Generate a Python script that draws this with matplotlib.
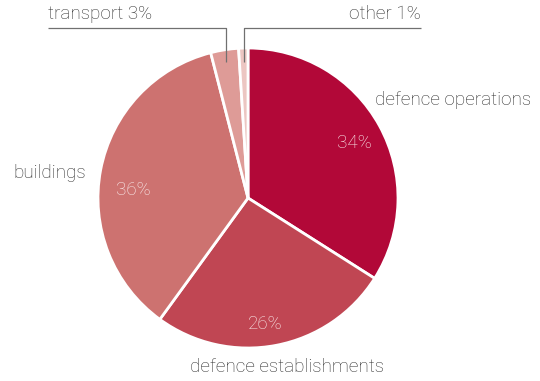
import matplotlib
matplotlib.use("Agg")
import matplotlib.pyplot as plt

# spending share by category, clockwise from twelve o'clock
categories = ["defence operations", "defence establishments", "buildings", "transport", "other"]
shares = [34, 26, 36, 3, 1]
colours = ["#b20838", "#c04653", "#cd7270", "#de9b97", "#ecc6c2"]

W, H = 540, 381


def py(y):
    # pixel rows count downwards, the axes count upwards
    return H - y


def main():
    plt.rcParams["font.family"] = ["Roboto", "DejaVu Sans"]
    fig = plt.figure(figsize=(W / 100, H / 100), dpi=100)
    ax = fig.add_axes([0, 0, 1, 1])

    ax.pie(shares, colors=colours, startangle=90, counterclock=False,
           center=(248, py(198)), radius=150, frame=True,
           wedgeprops=dict(edgecolor="white", linewidth=2))
    ax.set_xlim(0, W)
    ax.set_ylim(0, H)
    ax.set_aspect("equal")
    ax.axis("off")

    txt = dict(color="#2e2e2e", fontsize=13.6, fontweight="light")
    pct = dict(color="#fbeeee", fontsize=13.6, fontweight="light", ha="center", va="center")

    # percentages inside the three big slices
    pct_pos = [(354, 143), (265, 324), (133, 190)]
    for share, (x, y) in zip(shares[:3], pct_pos):
        ax.text(x, py(y), "%d%%" % share, **pct)

    ax.text(375, py(100), categories[0], ha="left", va="center", **txt)
    ax.text(287, py(367), categories[1], ha="center", va="center", **txt)
    ax.text(86, py(173), categories[2], ha="right", va="center", **txt)
    ax.text(48, py(14), "%s %d%%" % (categories[3], shares[3]), ha="left", va="center", **txt)
    ax.text(421, py(14), "%s %d%%" % (categories[4], shares[4]), ha="right", va="center", **txt)

    # leader lines for the two thin slices
    line = dict(color="#707070", linewidth=0.9, solid_capstyle="butt")
    ax.plot([48, 226, 226], [py(27.5), py(27.5), py(62)], **line)
    ax.plot([421, 244, 244], [py(27.5), py(27.5), py(62)], **line)

    fig.savefig("out.png", dpi=100, facecolor="white")


if __name__ == "__main__":
    main()
